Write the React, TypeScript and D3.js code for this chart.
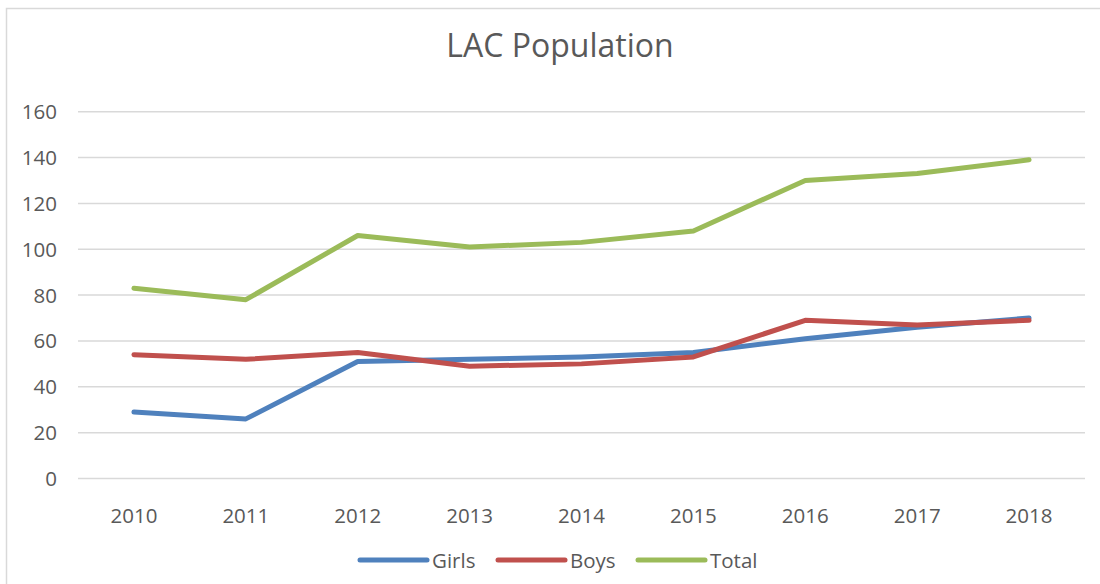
import * as d3 from 'd3';
import React, { useEffect, useRef } from 'react';

const years = ['2010', '2011', '2012', '2013', '2014', '2015', '2016', '2017', '2018'];
const girls = [29, 26, 51, 52, 53, 55, 61, 66, 70];
const boys = [54, 52, 55, 49, 50, 53, 69, 67, 69];
const total = [83, 78, 106, 101, 103, 108, 130, 133, 139];
const yTicks = [0, 20, 40, 60, 80, 100, 120, 140, 160];

const series = [
  { name: 'Girls', values: girls, color: '#4f81bd' },
  { name: 'Boys', values: boys, color: '#c0504d' },
  { name: 'Total', values: total, color: '#9bbb59' },
];

const App = () => {
  const ref = useRef<SVGSVGElement>(null);

  useEffect(() => {
    const svg = d3.select(ref.current);
    svg.selectAll('*').remove();
    const font = "'Open Sans', sans-serif";
    const textColor = '#595959';

    // chart frame
    svg.append('rect')
      .attr('x', 6.5).attr('y', 8.5)
      .attr('width', 1200).attr('height', 700)
      .attr('fill', '#fff')
      .attr('stroke', '#d9d9d9')
      .attr('stroke-width', 1.5);

    svg.append('text')
      .attr('x', 560).attr('y', 57)
      .attr('text-anchor', 'middle')
      .attr('font-family', font)
      .attr('font-size', 32)
      .attr('fill', textColor)
      .text('LAC Population');

    const x = d3.scaleBand().domain(years).range([78, 1085]);
    const y = d3.scaleLinear().domain([0, 160]).range([478.5, 111.7]);

    svg.append('g')
      .selectAll('line')
      .data(yTicks)
      .enter()
      .append('line')
      .attr('x1', 78).attr('x2', 1085)
      .attr('y1', d => y(d)).attr('y2', d => y(d))
      .attr('stroke', '#d9d9d9')
      .attr('stroke-width', 1.5);

    svg.append('g')
      .selectAll('text')
      .data(yTicks)
      .enter()
      .append('text')
      .attr('x', 57)
      .attr('y', d => y(d) + 7.5)
      .attr('text-anchor', 'end')
      .attr('font-family', font)
      .attr('font-size', 20.5)
      .attr('fill', textColor)
      .text(d => d);

    svg.append('g')
      .selectAll('text')
      .data(years)
      .enter()
      .append('text')
      .attr('x', d => (x(d) ?? 0) + x.bandwidth() / 2)
      .attr('y', 523)
      .attr('text-anchor', 'middle')
      .attr('font-family', font)
      .attr('font-size', 20.5)
      .attr('fill', textColor)
      .text(d => d);

    const line = d3.line<number>()
      .x((_, i) => (x(years[i]) ?? 0) + x.bandwidth() / 2)
      .y(d => y(d));

    series.forEach(s => {
      svg.append('path')
        .datum(s.values)
        .attr('d', line)
        .attr('fill', 'none')
        .attr('stroke', s.color)
        .attr('stroke-width', 5)
        .attr('stroke-linejoin', 'round')
        .attr('stroke-linecap', 'round');
    });

    // legend
    const legendX = [360, 498, 638];
    series.forEach((s, i) => {
      const g = svg.append('g').attr('transform', `translate(${legendX[i]}, 560)`);
      g.append('line')
        .attr('x1', 0).attr('x2', 67)
        .attr('stroke', s.color)
        .attr('stroke-width', 5)
        .attr('stroke-linecap', 'round');
      g.append('text')
        .attr('x', 72).attr('y', 7.5)
        .attr('font-family', font)
        .attr('font-size', 20.5)
        .attr('fill', textColor)
        .text(s.name);
    });
  }, []);

  return (
    <svg ref={ref} width={1100} height={584}
      style={{ position: 'absolute', left: 0, top: 0 }} />
  );
};

export default App;
